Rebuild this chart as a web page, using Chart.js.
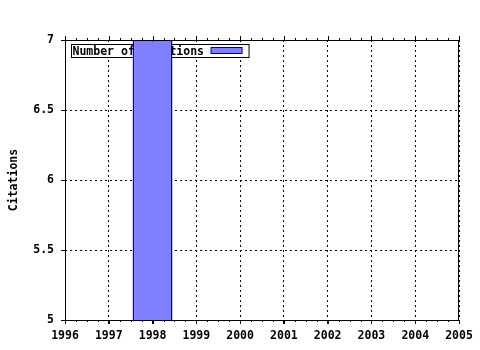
<!DOCTYPE html>
<html>
<head>
<meta charset="utf-8">
<script src="https://cdn.jsdelivr.net/npm/chart.js@4/dist/chart.umd.min.js"></script>
<style>
  html, body { margin: 0; padding: 0; background: #fff; }
  #wrap { width: 480px; height: 350px; }
</style>
</head>
<body>
<div id="wrap"><canvas id="chart" width="480" height="350"></canvas></div>
<script>
/* datos del gráfico */
const YEARS = [1998];
const CITATIONS = [7];
const SERIES_LABEL = "Number of citations";
const Y_TICKS = [5, 5.5, 6, 6.5, 7];
const X_TICKS = [1996, 1997, 1998, 1999, 2000, 2001, 2002, 2003, 2004, 2005];

const FONT = { family: "'DejaVu Sans Mono', monospace", size: 11.5, weight: "bold" };

/* marco, ticks menores y leyenda */
const framePlugin = {
    id: "frame",
    beforeDatasetsDraw(chart) {
        const { ctx, chartArea: a } = chart;
        const ds = chart.data.datasets[0];
        ctx.save();
        ctx.font = "bold 11.5px 'DejaVu Sans Mono', monospace";
        const tw = ctx.measureText(ds.label).width;
        const x0 = a.left + 6.5, y0 = a.top + 4.5;
        const w = tw + 46, h = 13;
        ctx.fillStyle = "#fff";
        ctx.fillRect(x0, y0, w, h);
        ctx.strokeStyle = "#000";
        ctx.lineWidth = 1;
        ctx.strokeRect(x0, y0, w, h);
        ctx.fillStyle = "#000";
        ctx.textBaseline = "middle";
        ctx.fillText(ds.label, x0 + 1, y0 + h / 2 + 1);
        ctx.fillStyle = ds.backgroundColor;
        ctx.fillRect(x0 + w - 38, y0 + 3, 31, 6);
        ctx.strokeStyle = ds.borderColor;
        ctx.strokeRect(x0 + w - 38, y0 + 3, 31, 6);
        ctx.restore();
    },
    afterDraw(chart) {
        const { ctx, chartArea: a, scales } = chart;
        ctx.save();
        ctx.strokeStyle = "#000";
        ctx.lineWidth = 1;
        ctx.strokeRect(Math.round(a.left) + 0.5, Math.round(a.top) + 0.5,
            Math.round(a.right - a.left) - 1, Math.round(a.bottom - a.top));
        ctx.beginPath();
        const xs = scales.x;
        for (let v = xs.min; v <= xs.max + 1e-9; v += 0.25) {
            const px = Math.round(xs.getPixelForValue(v)) + 0.5;
            const major = Math.abs(v - Math.round(v)) < 1e-6;
            const len = major ? 4 : 2;
            ctx.moveTo(px, a.top - len);
            ctx.lineTo(px, a.top);
            ctx.moveTo(px, a.bottom);
            ctx.lineTo(px, a.bottom + len);
        }
        ctx.stroke();
        ctx.restore();
    }
};

new Chart(document.getElementById("chart"), {
    type: "bar",
    data: {
        datasets: [{
            label: SERIES_LABEL,
            data: YEARS.map((y, i) => ({ x: y, y: CITATIONS[i] })),
            backgroundColor: "#8080ff",
            borderColor: "#0000a0",
            borderWidth: 1.5,
            borderSkipped: "start",
            barPercentage: 0.91,
            categoryPercentage: 1
        }]
    },
    options: {
        responsive: false,
        animation: false,
        layout: { padding: { left: 0, top: 40, right: 21, bottom: 0 } },
        plugins: { legend: { display: false }, tooltip: { enabled: false } },
        scales: {
            x: {
                type: "linear",
                offset: false,
                min: 1996,
                max: 2005,
                afterBuildTicks: s => { s.ticks = X_TICKS.map(v => ({ value: v })); },
                afterFit: s => { s.height = 30; },
                grid: {
                    offset: false,
                    color: "#000",
                    drawTicks: true,
                    tickLength: 4,
                    tickColor: "#000",
                    tickBorderDash: []
                },
                border: { display: false, dash: [2, 3] },
                ticks: { color: "#000", font: FONT, padding: 5, maxRotation: 0, autoSkip: false, callback: v => String(v) },
            },
            y: {
                min: 5,
                max: 7,
                afterBuildTicks: s => { s.ticks = Y_TICKS.map(v => ({ value: v })); },
                afterFit: s => { s.width = 65; },
                grid: {
                    color: "#000",
                    drawTicks: true,
                    tickLength: 4,
                    tickColor: "#000",
                    tickBorderDash: []
                },
                border: { display: false, dash: [2, 3] },
                ticks: { color: "#000", font: FONT, padding: 7, callback: v => String(v) },
                title: {
                    display: true,
                    text: "Citations",
                    color: "#000",
                    font: FONT,
                    padding: { top: 7, bottom: 0 }
                }
            }
        }
    },
    plugins: [framePlugin]
});
</script>
</body>
</html>
